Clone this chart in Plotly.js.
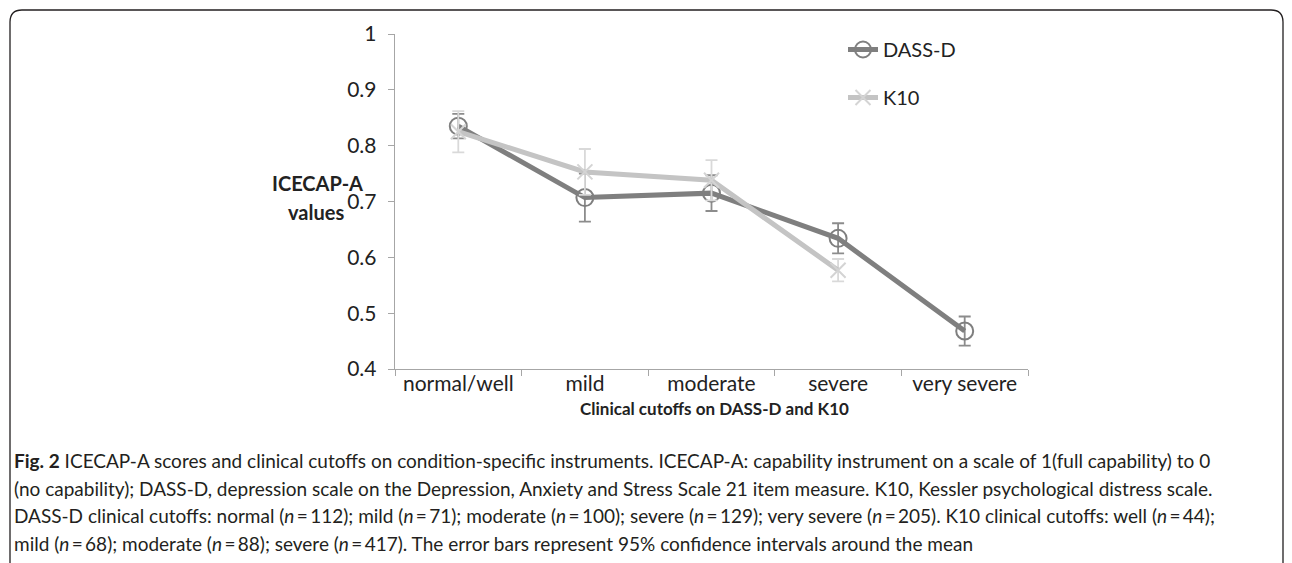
<!DOCTYPE html>
<html>
<head>
<meta charset="utf-8">
<script src="https://cdn.plot.ly/plotly-3.0.1.min.js"></script>
<style>html,body{margin:0;padding:0;background:#fff;}#chart{width:1292px;height:563px;}</style>
</head>
<body>
<div id="chart"></div>
<script>
var categories = ["normal/well", "mild", "moderate", "severe", "very severe"];
var dassValues = [0.835, 0.707, 0.715, 0.634, 0.468];
var dassErrors = [0.022, 0.043, 0.032, 0.027, 0.026];
var k10Categories = ["normal/well", "mild", "moderate", "severe"];
var k10Values = [0.825, 0.753, 0.738, 0.577];
var k10Errors = [0.037, 0.041, 0.036, 0.020];
var yTicks = [0.4, 0.5, 0.6, 0.7, 0.8, 0.9, 1];
var yTickLabels = ["0.4", "0.5", "0.6", "0.7", "0.8", "0.9", "1"];
var captionLines = [
  "<b>Fig. 2</b> ICECAP-A scores and clinical cutoffs on condition-specific instruments. ICECAP-A: capability instrument on a scale of 1(full capability) to 0",
  "(no capability); DASS-D, depression scale on the Depression, Anxiety and Stress Scale 21 item measure. K10, Kessler psychological distress scale.",
  "DASS-D clinical cutoffs: normal (<i>n</i>\u2009=\u2009112); mild (<i>n</i>\u2009=\u200971); moderate (<i>n</i>\u2009=\u2009100); severe (<i>n</i>\u2009=\u2009129); very severe (<i>n</i>\u2009=\u2009205). K10 clinical cutoffs: well (<i>n</i>\u2009=\u200944);",
  "mild (<i>n</i>\u2009=\u200968); moderate (<i>n</i>\u2009=\u200988); severe (<i>n</i>\u2009=\u2009417). The error bars represent 95% confidence intervals around the mean"
];

var W = 1292, H = 563;
var L = 395, R = 1028, T = 34, B = 369;
function px(x){ return (x - L) / (R - L); }
function py(y){ return (B - y) / (B - T); }

var FONT = "Lato, 'Open Sans', sans-serif";

var traces = [
  {
    x: categories, y: dassValues, name: "DASS-D", type: "scatter", mode: "lines+markers",
    legendgroup: "a",
    line: {color: "#7f7f7f", width: 5},
    marker: {symbol: "circle-open", size: 17, color: "#7f7f7f", line: {width: 2, color: "#7f7f7f"}},
    error_y: {type: "data", array: dassErrors, visible: true, color: "#8c8c8c", thickness: 1.8, width: 6}
  },
  {
    x: k10Categories, y: k10Values, name: "K10", type: "scatter", mode: "lines+markers",
    legendgroup: "b",
    line: {color: "#c4c4c4", width: 5},
    marker: {symbol: "x-thin-open", size: 15, color: "#d4d4d4", line: {width: 2, color: "#d4d4d4"}},
    error_y: {type: "data", array: k10Errors, visible: true, color: "#d9d9d9", thickness: 1.8, width: 6}
  }
];

var annotations = [];
annotations.push({xref: "paper", yref: "paper", x: px(317), y: py(183), xanchor: "center", yanchor: "middle",
  text: "<b>ICECAP-A</b>", showarrow: false, font: {family: FONT, size: 20, color: "#222"}});
annotations.push({xref: "paper", yref: "paper", x: px(316), y: py(212), xanchor: "center", yanchor: "middle",
  text: "<b>values</b>", showarrow: false, font: {family: FONT, size: 20, color: "#222"}});
annotations.push({xref: "paper", yref: "paper", x: px(714), y: py(409), xanchor: "center", yanchor: "middle",
  text: "<b>Clinical cutoffs on DASS-D and K10</b>", showarrow: false, font: {family: FONT, size: 17, color: "#222"}});
var captionY = [460, 488, 515, 543];
for (var i = 0; i < captionLines.length; i++) {
  annotations.push({xref: "paper", yref: "paper", x: px(12), y: py(captionY[i]), xanchor: "left", yanchor: "middle",
    text: captionLines[i], showarrow: false, align: "left", font: {family: FONT, size: 19, color: "#231f20"}});
}

var r = 12;
var x0 = 10, y0 = 10, x1 = 1283, yb = 600;
var borderPath = "M " + px(x0) + "," + py(yb) +
  " L " + px(x0) + "," + py(y0 + r) +
  " Q " + px(x0) + "," + py(y0) + " " + px(x0 + r) + "," + py(y0) +
  " L " + px(x1 - r) + "," + py(y0) +
  " Q " + px(x1) + "," + py(y0) + " " + px(x1) + "," + py(y0 + r) +
  " L " + px(x1) + "," + py(yb);

var layout = {
  width: W, height: H,
  margin: {l: L, r: W - R, t: T, b: H - B, pad: 0},
  paper_bgcolor: "#fff", plot_bgcolor: "#fff",
  showlegend: true,
  legend: {x: px(843), y: py(30), xanchor: "left", yanchor: "top", bgcolor: "rgba(0,0,0,0)",
    font: {family: FONT, size: 20, color: "#222"}, tracegroupgap: 19, traceorder: "grouped", itemwidth: 30},
  xaxis: {type: "category", categoryorder: "array", categoryarray: categories, range: [-0.5, 4.5],
    showline: true, linecolor: "#a6a6a6", linewidth: 1.3, ticks: "outside", tickson: "boundaries",
    ticklen: 6, tickcolor: "#a6a6a6", showgrid: false, zeroline: false, ticklabelstandoff: -5,
    tickfont: {family: FONT, size: 21, color: "#222"}, fixedrange: true},
  yaxis: {range: [0.4, 1], tickvals: yTicks, ticktext: yTickLabels, showline: true, linecolor: "#a6a6a6",
    linewidth: 1.3, ticks: "outside", ticklen: 6, tickcolor: "#a6a6a6", showgrid: false, zeroline: false,
    ticklabelstandoff: 7, tickfont: {family: FONT, size: 21, color: "#222"}, fixedrange: true},
  annotations: annotations,
  shapes: [{type: "path", xref: "paper", yref: "paper", path: borderPath, line: {color: "#231f20", width: 1.3}}]
};

Plotly.newPlot("chart", traces, layout, {displayModeBar: false, staticPlot: true});
</script>
</body>
</html>
